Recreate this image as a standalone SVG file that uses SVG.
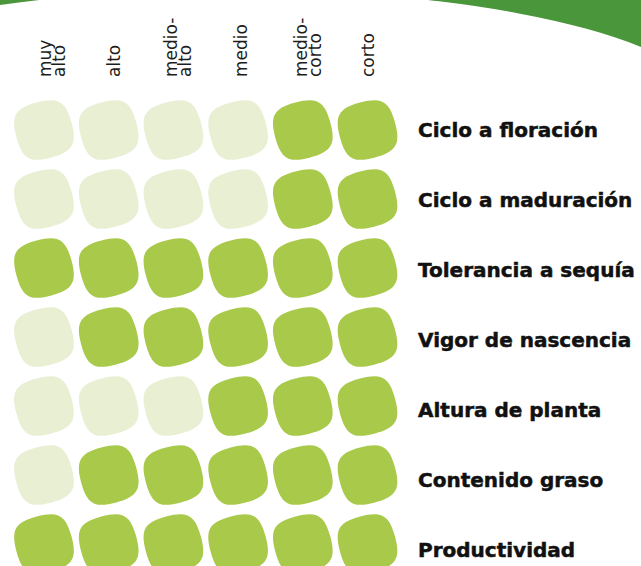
<svg xmlns="http://www.w3.org/2000/svg" xmlns:xlink="http://www.w3.org/1999/xlink" width="641" height="566" viewBox="0 0 641 566">
<style>
.lt{fill:#e8efd3}
.gr{fill:#a8c94a}
.col{font-family:"DejaVu Sans","Noto Sans",sans-serif;font-size:17px;font-weight:normal;fill:#1d1d1b}
.row{font-family:"DejaVu Sans","Noto Sans",sans-serif;font-size:20px;font-weight:bold;fill:#111;stroke:#111;stroke-width:0.5}
</style>
<defs>
<path id="b" transform="rotate(-15)" d="M28.5,0 C28.5,22.3 22.3,28.5 0,28.5 C-22.3,28.5 -28.5,22.3 -28.5,0 C-28.5,-22.3 -22.3,-28.5 0,-28.5 C22.3,-28.5 28.5,-22.3 28.5,0 Z"/>
</defs>
<path id="banner" d="M0,0 H641 V47 A480,122 0 0 0 0,5 Z" fill="#4a963a"/>
<g id="headers" class="col">
<text transform="translate(51,77) rotate(-90)">muy</text>
<text transform="translate(65,77) rotate(-90)">alto</text>
<text transform="translate(120,77) rotate(-90)">alto</text>
<text transform="translate(177,77) rotate(-90)">medio-</text>
<text transform="translate(191,77) rotate(-90)">alto</text>
<text transform="translate(247,77) rotate(-90)">medio</text>
<text transform="translate(307,77) rotate(-90)">medio-</text>
<text transform="translate(321,77) rotate(-90)">corto</text>
<text transform="translate(374,77) rotate(-90)">corto</text>
</g>
<g id="row1"><use href="#b" x="44" y="130" class="lt"/><use href="#b" x="108.7" y="130" class="lt"/><use href="#b" x="173.4" y="130" class="lt"/><use href="#b" x="238.1" y="130" class="lt"/><use href="#b" x="302.8" y="130" class="gr"/><use href="#b" x="367.5" y="130" class="gr"/><text class="row" x="418" y="137">Ciclo a floración</text></g>
<g id="row2"><use href="#b" x="44" y="199" class="lt"/><use href="#b" x="108.7" y="199" class="lt"/><use href="#b" x="173.4" y="199" class="lt"/><use href="#b" x="238.1" y="199" class="lt"/><use href="#b" x="302.8" y="199" class="gr"/><use href="#b" x="367.5" y="199" class="gr"/><text class="row" x="418" y="207">Ciclo a maduración</text></g>
<g id="row3"><use href="#b" x="44" y="268" class="gr"/><use href="#b" x="108.7" y="268" class="gr"/><use href="#b" x="173.4" y="268" class="gr"/><use href="#b" x="238.1" y="268" class="gr"/><use href="#b" x="302.8" y="268" class="gr"/><use href="#b" x="367.5" y="268" class="gr"/><text class="row" x="418" y="277">Tolerancia a sequía</text></g>
<g id="row4"><use href="#b" x="44" y="337" class="lt"/><use href="#b" x="108.7" y="337" class="gr"/><use href="#b" x="173.4" y="337" class="gr"/><use href="#b" x="238.1" y="337" class="gr"/><use href="#b" x="302.8" y="337" class="gr"/><use href="#b" x="367.5" y="337" class="gr"/><text class="row" x="418" y="347">Vigor de nascencia</text></g>
<g id="row5"><use href="#b" x="44" y="406" class="lt"/><use href="#b" x="108.7" y="406" class="lt"/><use href="#b" x="173.4" y="406" class="lt"/><use href="#b" x="238.1" y="406" class="gr"/><use href="#b" x="302.8" y="406" class="gr"/><use href="#b" x="367.5" y="406" class="gr"/><text class="row" x="418" y="417">Altura de planta</text></g>
<g id="row6"><use href="#b" x="44" y="475" class="lt"/><use href="#b" x="108.7" y="475" class="gr"/><use href="#b" x="173.4" y="475" class="gr"/><use href="#b" x="238.1" y="475" class="gr"/><use href="#b" x="302.8" y="475" class="gr"/><use href="#b" x="367.5" y="475" class="gr"/><text class="row" x="418" y="487">Contenido graso</text></g>
<g id="row7"><use href="#b" x="44" y="544" class="gr"/><use href="#b" x="108.7" y="544" class="gr"/><use href="#b" x="173.4" y="544" class="gr"/><use href="#b" x="238.1" y="544" class="gr"/><use href="#b" x="302.8" y="544" class="gr"/><use href="#b" x="367.5" y="544" class="gr"/><text class="row" x="418" y="557">Productividad</text></g>
</svg>
